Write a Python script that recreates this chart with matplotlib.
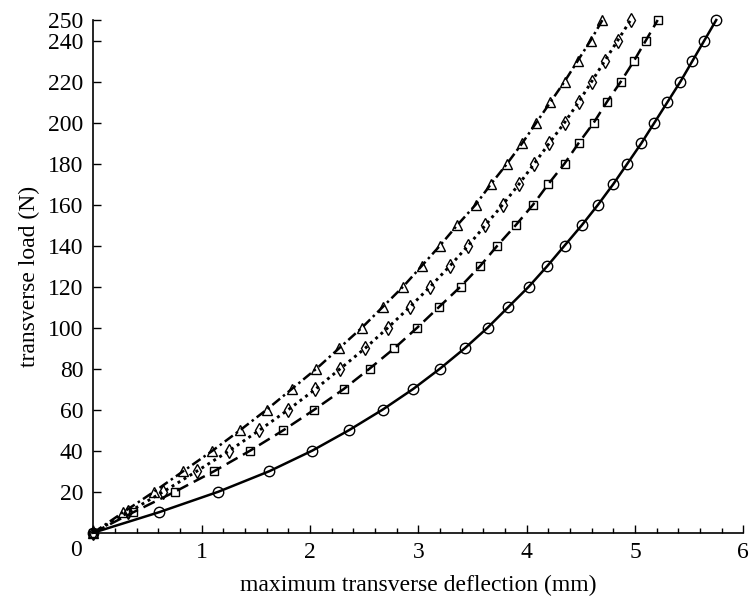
import matplotlib
matplotlib.use("Agg")
import matplotlib.pyplot as plt
from matplotlib.ticker import MultipleLocator

plt.rcParams['font.family'] = ['Liberation Serif', 'DejaVu Serif']

loads = [0, 10, 20, 30, 40, 50, 60, 70, 80, 90, 100, 110, 120, 130, 140, 150,
         160, 170, 180, 190, 200, 210, 220, 230, 240, 250]

defl_circle = [0, 0.607, 1.155, 1.625, 2.02, 2.36, 2.67, 2.95, 3.20, 3.43, 3.64,
               3.83, 4.02, 4.19, 4.35, 4.51, 4.66, 4.80, 4.93, 5.06, 5.18, 5.30,
               5.42, 5.53, 5.64, 5.75]
defl_square = [0, 0.37, 0.754, 1.115, 1.447, 1.755, 2.04, 2.31, 2.55, 2.78, 2.99,
               3.19, 3.39, 3.57, 3.73, 3.90, 4.06, 4.20, 4.35, 4.48, 4.62, 4.74,
               4.87, 4.99, 5.10, 5.21]
defl_diamond = [0, 0.323, 0.646, 0.955, 1.256, 1.533, 1.80, 2.05, 2.28, 2.51, 2.72,
                2.92, 3.11, 3.29, 3.46, 3.62, 3.78, 3.93, 4.07, 4.21, 4.35, 4.48,
                4.60, 4.72, 4.84, 4.96]
defl_triangle = [0, 0.277, 0.56, 0.83, 1.10, 1.355, 1.60, 1.83, 2.06, 2.27, 2.48,
                 2.67, 2.86, 3.03, 3.20, 3.36, 3.53, 3.67, 3.82, 3.96, 4.09, 4.22,
                 4.35, 4.47, 4.59, 4.70]

y_ticks = [20, 40, 60, 80, 100, 120, 140, 160, 180, 200, 220, 240, 250]
x_ticks = [0, 1, 2, 3, 4, 5, 6]
x_tick_labels = ["", "1", "2", "3", "4", "5", "6"]

fig = plt.figure(figsize=(7.49, 6.01), dpi=100)
ax = fig.add_axes([0.1246, 0.1136, 0.8678, 0.8531])

lw = 1.8
common = dict(color='black', markerfacecolor='none', markeredgewidth=1.0, clip_on=False)
ax.plot(defl_circle, loads, linestyle='-', linewidth=lw,
        marker='o', markersize=7.5, **common)
ax.plot(defl_square, loads, linestyle=(0, (5, 2.5)), linewidth=lw,
        marker='s', markersize=5.5, **common)
ax.plot(defl_diamond, loads, linestyle=(0, (1, 1.4)), linewidth=lw + 0.3,
        marker='d', markersize=7, **common)
ax.plot(defl_triangle, loads, linestyle=(0, (4, 1.5, 1, 1.5)), linewidth=lw,
        marker='^', markersize=7, **common)

ax.set_xlim(0, 6)
ax.set_ylim(0, 250)
ax.spines['top'].set_visible(False)
ax.spines['right'].set_visible(False)
ax.spines['left'].set_linewidth(1.2)
ax.spines['bottom'].set_linewidth(1.2)

ax.set_xticks(x_ticks)
ax.set_xticklabels(x_tick_labels)
ax.xaxis.set_minor_locator(MultipleLocator(0.2))
ax.set_yticks(y_ticks)
ax.tick_params(axis='both', which='major', direction='in', length=6, width=1.0,
               labelsize=17, pad=7)
ax.tick_params(axis='x', which='minor', direction='in', length=3.5, width=1.0)

ax.annotate("0", xy=(0, 0), xycoords='data', xytext=(-17, -7),
            textcoords='offset pixels', ha='center', va='top', fontsize=17)

ax.set_xlabel("maximum transverse deflection (mm)", fontsize=17, labelpad=8)
ax.set_ylabel("transverse load (N)", fontsize=17, labelpad=6)

fig.savefig("out.png", dpi=100)
